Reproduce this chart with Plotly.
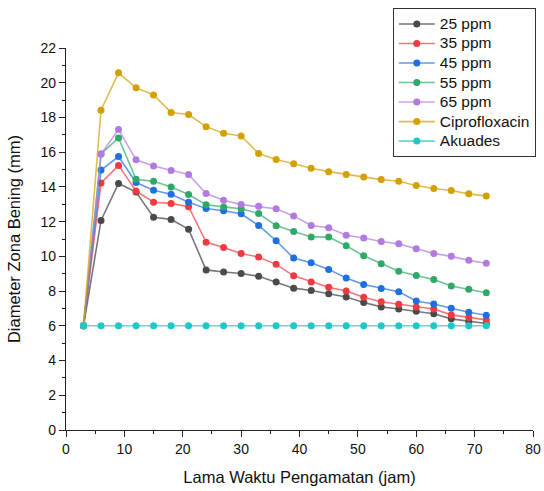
import plotly.graph_objects as go

hours = [3, 6, 9, 12, 15, 18, 21, 24, 27, 30, 33, 36, 39, 42, 45, 48, 51, 54, 57, 60, 63, 66, 69, 72]

ppm25 = [6, 12.07, 14.2, 13.7, 12.25, 12.13, 11.56, 9.22, 9.1, 9.01, 8.85, 8.53, 8.17, 8.03, 7.84, 7.66, 7.34, 7.09, 6.97, 6.84, 6.7, 6.4, 6.25, 6.13]
ppm35 = [6, 14.23, 15.24, 13.77, 13.12, 13.05, 12.86, 10.82, 10.51, 10.17, 9.96, 9.54, 8.88, 8.53, 8.22, 8.01, 7.64, 7.39, 7.24, 7.09, 6.97, 6.63, 6.48, 6.34]
ppm45 = [6, 14.97, 15.75, 14.25, 13.81, 13.58, 13.12, 12.76, 12.63, 12.45, 11.78, 10.9, 9.9, 9.63, 9.25, 8.76, 8.38, 8.15, 7.96, 7.43, 7.26, 7.01, 6.78, 6.61]
ppm55 = [6, 15.9, 16.82, 14.44, 14.32, 14.0, 13.56, 12.97, 12.85, 12.74, 12.47, 11.77, 11.43, 11.12, 11.11, 10.61, 10.03, 9.58, 9.14, 8.9, 8.67, 8.29, 8.1, 7.9]
ppm65 = [6, 15.9, 17.31, 15.56, 15.2, 14.95, 14.72, 13.62, 13.23, 12.98, 12.88, 12.74, 12.33, 11.78, 11.65, 11.22, 11.06, 10.86, 10.72, 10.44, 10.17, 10.0, 9.77, 9.6]
cipro = [6, 18.42, 20.57, 19.71, 19.3, 18.29, 18.17, 17.47, 17.09, 16.93, 15.92, 15.58, 15.33, 15.07, 14.88, 14.72, 14.57, 14.42, 14.33, 14.08, 13.91, 13.79, 13.6, 13.47]
akuades = [6] * 24

series_names = ["25 ppm", "35 ppm", "45 ppm", "55 ppm", "65 ppm", "Ciprofloxacin", "Akuades"]
series_values = [ppm25, ppm35, ppm45, ppm55, ppm65, cipro, akuades]
marker_colors = ["#4a4a4a", "#f03a3f", "#1f6fe0", "#2fa868", "#b07ae0", "#d4a000", "#1ec8c8"]
line_colors = ["rgba(74,74,74,0.75)", "rgba(240,58,63,0.7)", "rgba(31,111,224,0.7)",
               "rgba(47,168,104,0.7)", "rgba(176,122,224,0.7)", "rgba(212,160,0,0.7)",
               "rgba(30,200,200,0.7)"]

fig = go.Figure()
for name, vals, mc, lc in zip(series_names, series_values, marker_colors, line_colors):
    fig.add_trace(go.Scatter(
        x=hours, y=vals, name='<span style="font-size:15.5px">' + name + '</span>',
        mode="lines+markers",
        line=dict(color=lc, width=1.6),
        marker=dict(color=mc, size=7),
    ))

font_family = "Liberation Sans, Arial, sans-serif"
fig.update_layout(
    width=544, height=491,
    margin=dict(l=66, r=8, t=46, b=61),
    paper_bgcolor="white", plot_bgcolor="white",
    font=dict(family=font_family, size=14, color="#111"),
    showlegend=True,
    legend=dict(
        x=1.006, xanchor="right", y=1.104, yanchor="top",
        bordercolor="#333", borderwidth=1, bgcolor="white",
        font=dict(size=12.7, color="#111"),
        itemwidth=36, tracegroupgap=0,
    ),
    xaxis=dict(
        range=[0, 80], dtick=10, tick0=0, automargin=False,
        showgrid=False, zeroline=False,
        showline=True, linecolor="#222", linewidth=1.2,
        ticks="outside", ticklen=6, tickcolor="#222",
        minor=dict(dtick=5, ticks="outside", ticklen=3, tickcolor="#222"),
        title=dict(text="Lama Waktu Pengamatan (jam)", font=dict(size=16.5)),
        tickfont=dict(size=14),
    ),
    yaxis=dict(
        range=[0, 22], dtick=2, tick0=0, automargin=False,
        showgrid=False, zeroline=False,
        showline=True, linecolor="#222", linewidth=1.2,
        ticks="outside", ticklen=6, tickcolor="#222",
        minor=dict(dtick=1, ticks="outside", ticklen=3, tickcolor="#222"),
        title=dict(text="Diameter Zona Bening (mm)", font=dict(size=16.5)),
        tickfont=dict(size=14),
    ),
)

fig.write_html("out.html", config={"displayModeBar": False},
               post_script="document.body.style.margin='0';")
